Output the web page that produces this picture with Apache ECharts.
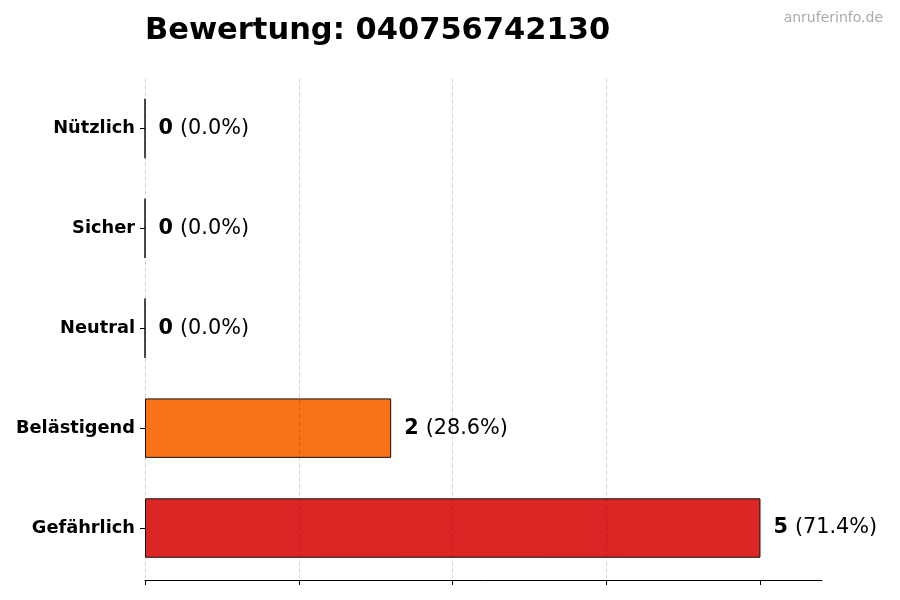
<!DOCTYPE html>
<html>
<head>
<meta charset="utf-8">
<script src="https://cdn.jsdelivr.net/npm/echarts@6/dist/echarts.min.js"></script>
<style>
html,body{margin:0;padding:0;background:#fff;}
#chart{width:900px;height:600px;}
</style>
</head>
<body>
<div id="chart"></div>
<script>
// Data (bottom to top)
const categories = ['Gefährlich', 'Belästigend', 'Neutral', 'Sicher', 'Nützlich'];
const counts = [5, 2, 0, 0, 0];
const barColors = ['#dc2626', '#f97316', '#9ca3af', '#16a34a', '#22c55e'];
const xTicks = [0, 1.25, 2.5, 3.75, 5];
const titleText = 'Bewertung: 040756742130';
const watermark = 'anruferinfo.de';

const total = counts.reduce((a, b) => a + b, 0);
const font = 'DejaVu Sans';

const chart = echarts.init(document.getElementById('chart'), null, {renderer: 'canvas'});
chart.setOption({
  backgroundColor: '#ffffff',
  animation: false,
  title: {
    text: titleText,
    left: 145,
    top: 16,
    padding: 0,
    textStyle: {fontFamily: font, fontWeight: 'bold', fontSize: 30.5, color: '#000'}
  },
  graphic: [{
    type: 'text',
    right: 17,
    top: 11,
    style: {text: watermark, fontFamily: font, fontSize: 14, fill: '#aaaaaa'}
  }],
  grid: {left: 145, right: 78, top: 78.5, bottom: 22, containLabel: false},
  xAxis: {
    type: 'value',
    min: 0,
    max: 5.5,
    interval: 1.25,
    offset: 2,
    z: 3,
    axisLine: {show: true, lineStyle: {color: '#000', width: 1}},
    axisTick: {show: true, length: 5, lineStyle: {color: '#000'}, customValues: xTicks},
    axisLabel: {show: false},
    splitLine: {show: true, showMaxLine: false, lineStyle: {color: 'rgba(0,0,0,0.18)', type: [4, 3], width: 1}}
  },
  yAxis: {
    type: 'category',
    data: categories,
    axisLine: {show: false},
    axisTick: {show: true, length: 5, alignWithLabel: true, lineStyle: {color: '#000'}},
    axisLabel: {margin: 10, fontFamily: font, fontWeight: 'bold', fontSize: 17.8, color: '#000'},
    splitLine: {show: false}
  },
  series: [{
    type: 'bar',
    barWidth: '59.5%',
    data: counts.map((v, i) => ({value: v, itemStyle: {color: barColors[i]}})),
    itemStyle: {borderColor: '#111', borderWidth: 1},
    label: {
      show: true,
      position: 'right',
      distance: 13,
      formatter: p => '{b|' + p.value + '}{n|(' + (p.value / total * 100).toFixed(1) + '%)}',
      rich: {
        b: {fontFamily: font, fontWeight: 'bold', fontSize: 20.8, color: '#000', padding: [0, 7, 0, 0]},
        n: {fontFamily: font, fontSize: 20.8, color: '#000'}
      }
    }
  }]
});
</script>
</body>
</html>
